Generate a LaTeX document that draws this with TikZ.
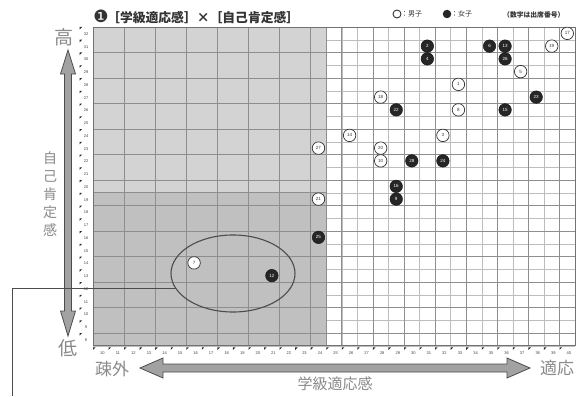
\documentclass[tikz,border=0pt]{standalone}
\usepackage{fontspec}
\setmainfont{Liberation Sans}
\newfontfamily\jp{Noto Sans CJK JP}
\newfontfamily\dv{DejaVu Sans}
\usetikzlibrary{shapes.geometric}
\definecolor{axgray}{HTML}{8A8A8A}
\definecolor{minorc}{HTML}{BDBDBD}
\definecolor{majorc}{HTML}{8E8E8E}
\definecolor{lightsh}{HTML}{D3D3D3}
\definecolor{darksh}{HTML}{C0C0C0}
\definecolor{arrowfill}{HTML}{A2A2A2}
\definecolor{inkc}{HTML}{333333}
\tikzset{
  minorline/.style={draw=minorc, line width=0.45pt},
  majorline/.style={draw=majorc, line width=0.8pt},
  gridframe/.style={draw=majorc!80!black, line width=0.9pt},
  tickmark/.style={fill=black!85},
  ticklab/.style={font=\fontsize{4}{4}\selectfont, text=black!75, inner sep=0pt},
  wpt/.style={circle, draw=black!80, line width=0.7pt, fill=white, minimum size=12.5pt, inner sep=0pt, font=\fontsize{4.5}{5}\selectfont, text=black!80},
  bpt/.style={circle, draw=black!90, line width=0.5pt, fill=black!85, minimum size=12.5pt, inner sep=0pt, font=\fontsize{4.5}{5}\selectfont, text=white},
  axlab/.style={text=axgray, inner sep=0pt},
  bigarrow/.style={fill=arrowfill, draw=black!70, line width=0.8pt, line join=miter},
  leader/.style={draw=black!70, line width=0.8pt},
  groupell/.style={ellipse, draw=black!70, line width=1.1pt, minimum width=124pt, minimum height=77pt, inner sep=0pt}
}
\begin{document}
\begin{tikzpicture}[x=1pt,y=-1pt]
\useasboundingbox (0,0) rectangle (583,396);
\fill[white] (0,0) rectangle (583,396);

% ---------- grid ----------
\begin{scope}[shift={(93pt,-27pt)}, x=15.55pt, y=-12.75pt]
  \foreach \i in {0,...,31} \draw[minorline] (\i,0) -- (\i,25);
  \foreach \j in {0,...,25} \draw[minorline] (0,\j) -- (31,\j);
  \fill[lightsh] (0,0) rectangle (15,13);
  \fill[darksh] (0,13) rectangle (15,25);
  \foreach \i in {0,2,...,30} \draw[majorline] (\i,0) -- (\i,25);
  \foreach \j in {0,2,...,24} \draw[majorline] (0,\j) -- (31,\j);
  \draw[majorline] (0,13) -- (15,13);
  \draw[majorline] (15,0) -- (15,25);
  \draw[gridframe] (0,0) rectangle (31,25);
  % y ticks
  \foreach \v in {8,...,32}{
    \pgfmathsetmacro\rr{32-\v}
    \fill[tickmark] (-0.86,\rr) -- ++(2.6pt,0) -- ++(-2.6pt,-2.6pt) -- cycle;
    \node[ticklab] (yl\v) at (-0.45,\rr+0.55) {\v};
  }
  % x ticks
  \foreach \v in {10,...,40}{
    \pgfmathsetmacro\cc{\v-10}
    \fill[tickmark] (\cc,25.12) -- ++(2.6pt,0) -- ++(-2.6pt,-2.6pt) -- cycle;
    \node[ticklab] (xl\v) at (\cc+0.6,25.6) {\v};
  }
  % boys (white)
  \foreach \X/\Y/\L in {40/32/17,39/31/19,37/29/5,33/28/1,28/27/18,33/26/8,26/24/14,32/24/3,24/23/27,28/23/20,28/22/10,24/19/21,16/14/7}
    \node[wpt] (w\L) at (\X-9.5,32.5-\Y) {\L};
  % girls (black)
  \foreach \X/\Y/\L in {31/31/2,35/31/6,36/31/13,31/30/4,36/30/26,38/27/23,29/26/22,36/26/15,30/22/28,32/22/24,29/20/16,29/19/9,24/16/25,21/13/12}
    \node[bpt] (b\L) at (\X-9.5,32.5-\Y) {\L};
\end{scope}

% ---------- title & legend ----------
\node[inner sep=0pt, text=inkc, font=\dv\fontsize{17}{17}\selectfont] (num) at (101,16.5) {❶};
\node[anchor=west, inner sep=0pt, text=inkc, font=\jp\bfseries\fontsize{12.8}{13}\selectfont] (title) at (107,17.5) {［学級適応感］×［自己肯定感］};
\node[circle, draw=black!80, line width=0.9pt, fill=white, minimum size=8pt, inner sep=0pt] (legw) at (397,14) {};
\node[anchor=west, inner sep=0pt, text=inkc, font=\jp\fontsize{7}{7}\selectfont] (legwt) at (401,14) {：男子};
\node[circle, fill=black!85, minimum size=8.5pt, inner sep=0pt] (legb) at (447,14) {};
\node[anchor=west, inner sep=0pt, text=inkc, font=\jp\fontsize{7}{7}\selectfont] (legbt) at (451,14) {：女子};
\node[anchor=west, inner sep=0pt, text=inkc, font=\jp\bfseries\fontsize{6.8}{7}\selectfont] (note) at (503,14.5) {（数字は出席番号）};

% ---------- axes ----------
\draw[bigarrow] (68,50) -- (75.5,74) -- (71.5,74) -- (71.5,311) -- (75.5,311) -- (68,336) -- (60.5,311) -- (64.5,311) -- (64.5,74) -- (60.5,74) -- cycle;
\draw[bigarrow] (140,368) -- (163,358) -- (163,364) -- (507,364) -- (507,358) -- (530,368) -- (507,378) -- (507,372) -- (163,372) -- (163,378) -- cycle;

\node[axlab, font=\jp\fontsize{19}{19}\selectfont] (hi) at (64,37) {高};
\node[axlab, font=\jp\fontsize{19}{19}\selectfont] (lo) at (68,348) {低};
\node[axlab, align=center, font=\jp\fontsize{14}{18.2}\selectfont] (ylab) at (50,194) {自\\己\\肯\\定\\感};
\node[axlab, font=\jp\fontsize{17}{17}\selectfont] (sogai) at (112,369) {疎外};
\node[axlab, font=\jp\fontsize{17}{17}\selectfont] (tekio) at (557,368) {適応};
\node[axlab, font=\jp\fontsize{15}{15}\selectfont] (xlab) at (335,384) {学級適応感};

% ---------- group ellipse & leader ----------
\node[groupell] (grp) at (233,273.5) {};
\coordinate (leadend) at (12,396);
\draw[leader] (grp.194) -| (leadend);
\end{tikzpicture}
\end{document}
